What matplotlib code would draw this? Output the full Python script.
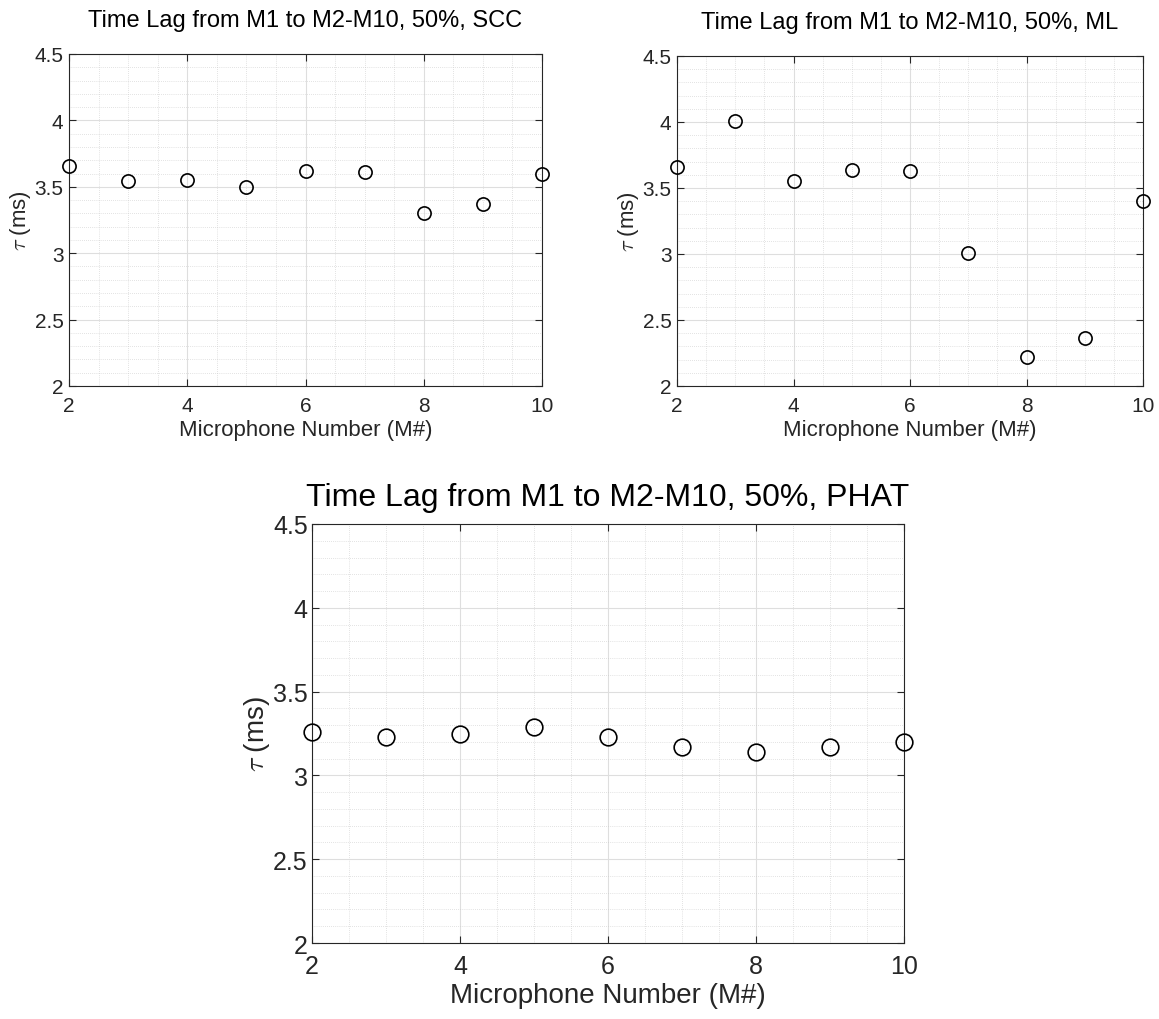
import matplotlib.pyplot as plt
from matplotlib.ticker import MultipleLocator

plt.rcParams['font.family'] = ['Liberation Sans', 'DejaVu Sans']
plt.rcParams['mathtext.fontset'] = 'cm'

mics = [2, 3, 4, 5, 6, 7, 8, 9, 10]
tau_scc = [3.66, 3.54, 3.55, 3.50, 3.62, 3.61, 3.30, 3.37, 3.60]
tau_ml = [3.66, 4.01, 3.55, 3.64, 3.63, 3.01, 2.22, 2.36, 3.40]
tau_phat = [3.26, 3.23, 3.25, 3.29, 3.23, 3.17, 3.14, 3.17, 3.20]

W, H = 1159, 1020
fig = plt.figure(figsize=(W / 100, H / 100), dpi=100)

txt = '#262626'


def box(l, t, r, b):
    return [l / W, 1 - b / H, (r - l) / W, (b - t) / H]


def panel(rect, y, title, fs_title, fs_tick, fs_lab, ms, tpad, xpad, ypad):
    ax = fig.add_axes(rect)
    ax.plot(mics, y, 'o', mfc='none', mec='black', ms=ms, mew=1.2, zorder=5, clip_on=False)
    ax.set_xlim(2, 10)
    ax.set_ylim(2, 4.5)
    ax.xaxis.set_major_locator(MultipleLocator(2))
    ax.xaxis.set_minor_locator(MultipleLocator(0.5))
    ax.yaxis.set_minor_locator(MultipleLocator(0.1))
    ax.set_yticks([2, 2.5, 3, 3.5, 4, 4.5], ['2', '2.5', '3', '3.5', '4', '4.5'])
    ax.grid(True, which='major', color='#dedede', lw=0.8)
    ax.grid(True, which='minor', color='#c8c8c8', lw=0.5, ls=(0, (1, 2)))
    ax.set_axisbelow(True)
    ax.tick_params(which='both', direction='in', top=True, right=True, colors=txt,
                   labelsize=fs_tick, labelcolor=txt)
    ax.tick_params(which='major', length=5)
    ax.tick_params(which='minor', length=0)
    ax.tick_params(axis='x', pad=xpad)
    ax.tick_params(axis='y', pad=ypad)
    for s in ax.spines.values():
        s.set_color(txt)
        s.set_linewidth(0.8)
    ax.set_title(title, fontsize=fs_title, color='black', pad=tpad)
    ax.set_xlabel('Microphone Number (M#)', fontsize=fs_lab, color=txt, labelpad=3)
    ax.set_ylabel(r'$\tau$ (ms)', fontsize=fs_lab, color=txt, labelpad=1)
    return ax


panel(box(69, 55, 542, 387), tau_scc, 'Time Lag from M1 to M2-M10, 50%, SCC',
      17, 15, 16, 9.5, 20, 7, 4)
panel(box(677, 57, 1143, 387), tau_ml, 'Time Lag from M1 to M2-M10, 50%, ML',
      17, 15, 16, 9.5, 20, 7, 4)
panel(box(312, 525, 904, 944), tau_phat, 'Time Lag from M1 to M2-M10, 50%, PHAT',
      23, 18, 20, 12, 14, 8, 3)

fig.savefig('out.png', dpi=100)
